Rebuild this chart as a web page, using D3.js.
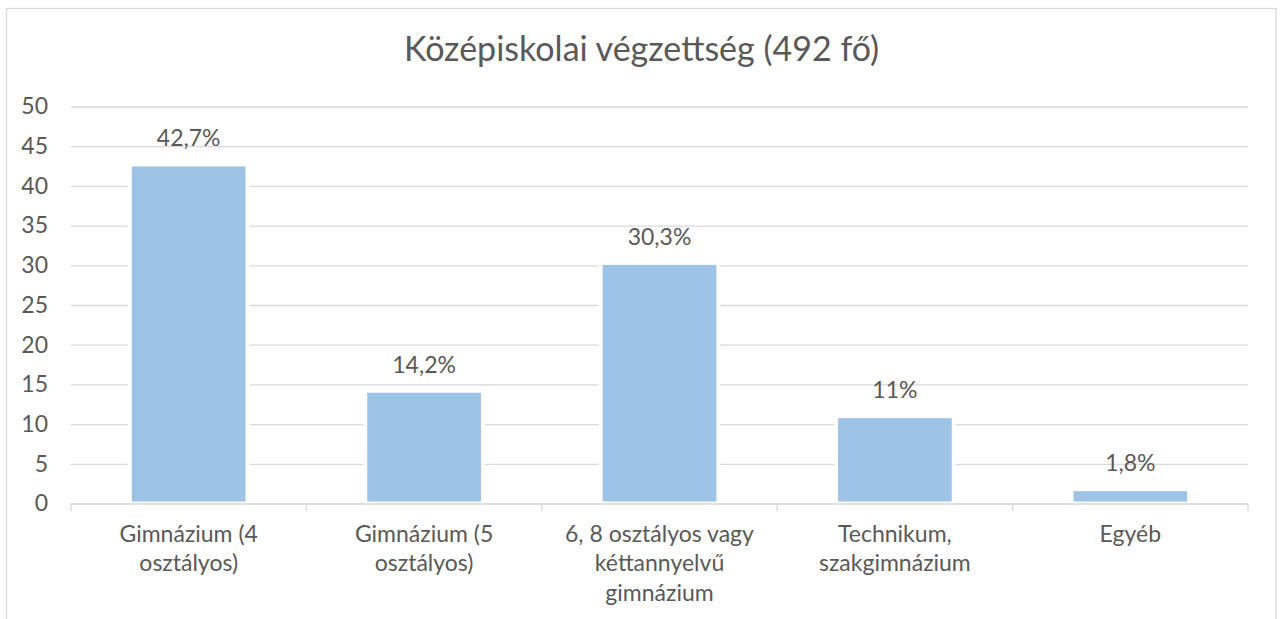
<!DOCTYPE html>
<html>
<head>
<meta charset="utf-8">
<script src="https://cdn.jsdelivr.net/npm/d3@7"></script>
<style>
  body { margin: 0; background: #fff; }
  text { font-family: Lato, "Open Sans", sans-serif; fill: #595959; }
</style>
</head>
<body>
<div id="canvas"></div>
<script>
// data
const categories = [
    "Gimnázium (4 osztályos)",
    "Gimnázium (5 osztályos)",
    "6, 8 osztályos vagy kéttannyelvű gimnázium",
    "Technikum, szakgimnázium",
    "Egyéb"
];
const values = [42.7, 14.2, 30.3, 11, 1.8];
const yTicks = [0, 5, 10, 15, 20, 25, 30, 35, 40, 45, 50];
const title = "Középiskolai végzettség (492 fő)";

// dimensions
const width = 1280;
const height = 619;
const margins = {top: 106.5, right: 32, bottom: 115.5, left: 71};
const dataWidth = width - margins.left - margins.right;
const dataHeight = height - margins.top - margins.bottom;

const labelSize = 23;
const titleSize = 34;
const gridColor = "#d9d9d9";
const barColor = "#9dc3e6";

var svg = d3.select("#canvas").append("svg")
    .attr("width", width)
    .attr("height", height);

// chart border (open at the bottom edge of the picture)
svg.append("rect")
    .attr("x", 6.5)
    .attr("y", 8.5)
    .attr("width", 1269.5)
    .attr("height", height)
    .attr("fill", "none")
    .attr("stroke", gridColor)
    .attr("stroke-width", 1.3);

// title
svg.append("text")
    .attr("text-anchor", "middle")
    .attr("x", 641.5)
    .attr("y", 61)
    .attr("font-size", titleSize)
    .text(title);

var dataArea = svg.append("g")
    .attr("transform", `translate(${margins.left}, ${margins.top})`);

// scales
var x = d3.scaleBand()
    .domain(categories)
    .range([0, dataWidth])
    .paddingInner(0.5)
    .paddingOuter(0.25);

var y = d3.scaleLinear()
    .domain([0, 50])
    .range([dataHeight, 0]);

// gridlines + Y axis labels
var yAxis = d3.axisLeft(y)
    .tickValues(yTicks)
    .tickSize(-dataWidth)
    .tickPadding(23)
    .tickFormat(d3.format("d"));

var yAxisGroup = dataArea.append("g").call(yAxis);
yAxisGroup.select(".domain").remove();
yAxisGroup.selectAll(".tick line")
    .attr("stroke", gridColor)
    .attr("stroke-width", 1.3);
yAxisGroup.selectAll(".tick text")
    .attr("font-size", labelSize)
    .attr("fill", "#595959");
yAxisGroup.attr("font-family", null);

// bars
dataArea.selectAll(".bar")
    .data(values)
    .enter()
    .append("rect")
    .attr("class", "bar")
    .attr("x", (d, i) => x(categories[i]))
    .attr("y", d => y(d))
    .attr("width", x.bandwidth())
    .attr("height", d => dataHeight - y(d))
    .attr("fill", barColor)
    .attr("stroke", "#fff")
    .attr("stroke-width", 4);

// X axis with ticks between categories
var xAxisGroup = dataArea.append("g")
    .attr("transform", `translate(0, ${dataHeight + 0.5})`);
xAxisGroup.append("line")
    .attr("x1", 0)
    .attr("x2", dataWidth)
    .attr("stroke", gridColor)
    .attr("stroke-width", 1.3);
xAxisGroup.selectAll(".xtick")
    .data(d3.range(categories.length + 1))
    .enter()
    .append("line")
    .attr("class", "xtick")
    .attr("x1", i => i * x.step())
    .attr("x2", i => i * x.step())
    .attr("y1", 0)
    .attr("y2", 7)
    .attr("stroke", gridColor)
    .attr("stroke-width", 1.3);

// category labels, wrapped into lines
function wrapWords(text, maxWidth, measure) {
    var words = text.split(" ");
    var lines = [];
    var line = words[0];
    for (var k = 1; k < words.length; k++) {
        var test = line + " " + words[k];
        if (measure(test) > maxWidth) {
            lines.push(line);
            line = words[k];
        } else {
            line = test;
        }
    }
    lines.push(line);
    return lines;
}

var measurer = svg.append("text").attr("font-size", labelSize).attr("visibility", "hidden");
function measure(s) {
    measurer.text(s);
    return measurer.node().getComputedTextLength();
}

categories.forEach(function(c) {
    var lines = wrapWords(c, x.step() * 0.85, measure);
    var t = dataArea.append("text")
        .attr("text-anchor", "middle")
        .attr("font-size", labelSize)
        .attr("x", x(c) + x.bandwidth() / 2)
        .attr("y", dataHeight + 38);
    lines.forEach(function(l, j) {
        t.append("tspan")
            .attr("x", x(c) + x.bandwidth() / 2)
            .attr("dy", j === 0 ? 0 : 29.5)
            .text(l);
    });
});
measurer.remove();

// data labels
dataArea.selectAll(".value")
    .data(values)
    .enter()
    .append("text")
    .attr("class", "value")
    .attr("text-anchor", "middle")
    .attr("font-size", labelSize)
    .attr("x", (d, i) => x(categories[i]) + x.bandwidth() / 2)
    .attr("y", d => y(d) - 18)
    .text(d => String(d).replace(".", ",") + "%");
</script>
</body>
</html>
